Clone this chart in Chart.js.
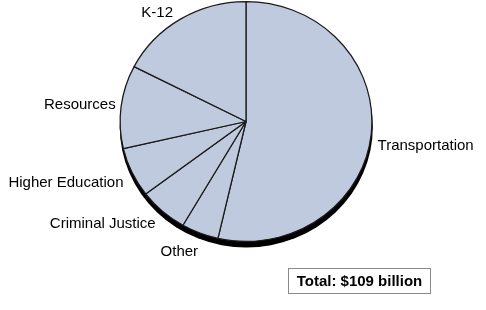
<!DOCTYPE html>
<html>
<head>
<meta charset="utf-8">
<script src="https://cdn.jsdelivr.net/npm/chart.js@4"></script>
<style>
  html, body { margin: 0; padding: 0; background: #fff; }
  #wrap { position: relative; width: 486px; height: 310px; }
  #total {
    position: absolute; left: 288px; top: 268px; width: 141px; height: 24px;
    border: 1px solid #8a8a8a; font: bold 15px "Liberation Sans", Arial, sans-serif;
    color: #000; text-align: center; line-height: 24px; box-sizing: content-box;
  }
</style>
</head>
<body>
<div id="wrap">
  <canvas id="c" width="486" height="310"></canvas>
  <div id="total">Total: $109 billion</div>
</div>
<script>
const categories = ["Transportation", "Other", "Criminal Justice", "Higher Education", "Resources", "K-12"];
const values = [58.4, 5.2, 6.9, 7.3, 12.2, 19.0];

const X_STRETCH = 1.05;
// small nudges so each label sits where the original places it
const labelNudges = [[-4, 10], [2, 9], [0, 5], [1, 6], [5, -1], [-2, 2]];

const piePlugin = {
  id: 'pieDeco',
  beforeDatasetsDraw(chart) {
    const arc = chart.getDatasetMeta(0).data[0];
    const ctx = chart.ctx;
    ctx.save();
    ctx.translate(arc.x, arc.y);
    ctx.scale(X_STRETCH, 1);
    ctx.translate(-arc.x, -arc.y);
    ctx.beginPath();
    ctx.arc(arc.x + 0.3, arc.y + 5.5, arc.outerRadius + 0.6, 0, Math.PI * 2);
    ctx.fillStyle = '#000';
    ctx.fill();
  },
  afterDatasetsDraw(chart) {
    const ctx = chart.ctx;
    ctx.restore();
    const meta = chart.getDatasetMeta(0);
    ctx.save();
    ctx.font = '15px "Liberation Sans", Arial, sans-serif';
    ctx.fillStyle = '#000';
    ctx.textBaseline = 'middle';
    meta.data.forEach((a, i) => {
      const mid = (a.startAngle + a.endAngle) / 2;
      const r = a.outerRadius + 10;
      const n = labelNudges[i] || [0, 0];
      const x = a.x + Math.cos(mid) * r * X_STRETCH + n[0];
      const y = a.y + Math.sin(mid) * r + n[1];
      ctx.textAlign = Math.cos(mid) >= 0 ? 'left' : 'right';
      ctx.fillText(chart.data.labels[i], x, y);
    });
    ctx.restore();
  }
};

new Chart(document.getElementById('c'), {
  type: 'pie',
  data: {
    labels: categories,
    datasets: [{
      data: values,
      backgroundColor: '#bfcadf',
      borderColor: '#1a1a1a',
      borderWidth: 1.2,
      borderAlign: 'center'
    }]
  },
  options: {
    responsive: false,
    animation: false,
    layout: { padding: { left: 125.5, right: 119.5, top: 1, bottom: 68 } },
    plugins: {
      legend: { display: false },
      tooltip: { enabled: false }
    }
  },
  plugins: [piePlugin]
});
</script>
</body>
</html>
